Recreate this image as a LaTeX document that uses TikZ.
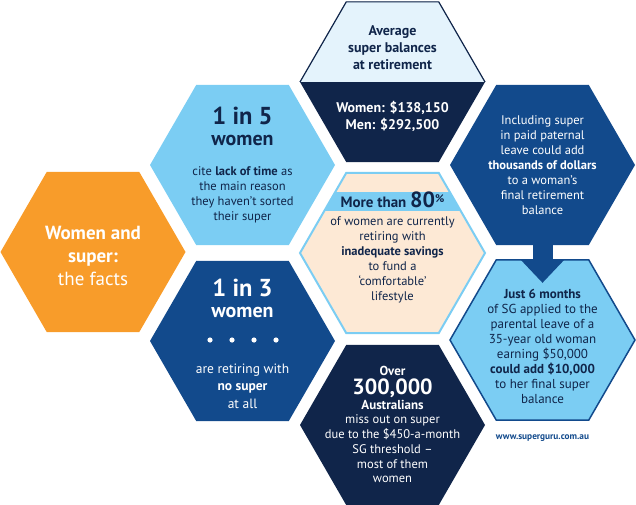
\documentclass[tikz,border=0pt]{standalone}
\usepackage{fontspec}
\setmainfont{PT Sans}
\usetikzlibrary{shapes.geometric,arrows.meta}

\definecolor{suporange}{HTML}{F89C2A}
\definecolor{supsky}{HTML}{7BCDF3}
\definecolor{supblue}{HTML}{124A8C}
\definecolor{supnavy}{HTML}{10254A}
\definecolor{suppeach}{HTML}{FDE9D5}
\definecolor{suppale}{HTML}{E4F3FC}

\newcommand{\fs}[2]{\fontsize{#1}{#2}\selectfont}

\tikzset{
	hexa/.style={regular polygon, regular polygon sides=6, minimum size=185pt, inner sep=0pt, outer sep=0pt},
	txt/.style={align=center, inner sep=0pt},
	stem/.style={draw=supblue, line width=20pt, -{Triangle[width=42pt,length=23pt]}},
}

\begin{document}
\begin{tikzpicture}[x=1pt,y=-1pt]
	\useasboundingbox (0,0) rectangle (636,505);

	% Hexagons
	\node[hexa, fill=suporange] (facts) at (93,252) {};
	\node[hexa, fill=supsky] (five) at (242.5,165) {};
	\node[hexa, fill=supblue] (three) at (242.5,341) {};
	\node[hexa, fill=supnavy] (avg) at (392.5,82) {};
	\node[hexa, fill=suppeach, draw=supsky, line width=2pt] (most) at (392.5,253) {};
	\node[hexa, fill=supnavy] (over) at (392.5,425) {};
	\node[hexa, fill=supblue] (leave) at (542.5,165) {};
	\node[hexa, fill=supsky, draw=supblue, line width=1.5pt] (just) at (542.5,340) {};

	% Top half of the balances hexagon
	\begin{scope}
		\clip (avg.west) ++(-3,0) rectangle ++(192,-90);
		\node[hexa, fill=suppale, draw=supnavy, line width=1.2pt] at (avg) {};
	\end{scope}

	% Band across the 80% hexagon
	\begin{scope}
		\clip (290,192) rectangle (495,210);
		\node[hexa, fill=supsky] at (most) {};
	\end{scope}

	% Arrow from leave to just
	\draw[stem] (leave.south) -- ([yshift=-23pt]just.north);

	% Title
	\node[txt, text=white, font=\fs{19}{23}] (factsText) at (93,256) {\textbf{Women and}\\\textbf{super:}\\the facts};

	% 1 in 5
	\node[txt, text=supnavy, font=\fs{24.5}{26}\bfseries] (fiveHead) at (242.5,116) {1 in 5};
	\node[txt, text=supnavy, font=\fs{20}{22}\bfseries] (fiveSub) at (242.5,141) {women};
	\node[txt, text=supnavy, font=\fs{12.5}{15}] (fiveText) at (242.5,195) {cite \textbf{lack of time} as\\the main reason\\they haven't sorted\\their super};

	% 1 in 3
	\node[txt, text=white, font=\fs{24.5}{26}\bfseries] (threeHead) at (242.5,288) {1 in 3};
	\node[txt, text=white, font=\fs{20}{22}\bfseries] (threeSub) at (242.5,312) {women};
	\foreach \dx in {210,232,254,276}
		\fill[white] (\dx,340) circle (2.6pt);
	\node[txt, text=white, font=\fs{13.5}{17.5}] (threeText) at (242.5,386) {are retiring with\\\textbf{no super}\\at all};

	% Average balances
	\node[txt, text=supnavy, font=\fs{14}{17}\bfseries] (avgHead) at (392.5,48) {Average\\super balances\\at retirement};
	\node[txt, text=white, font=\fs{14}{17}\bfseries] (avgText) at (392.5,116) {Women: \$138,150\\Men: \$292,500};

	% More than 80%
	\node[txt, text=supnavy, font=\fs{15}{17}\bfseries] (mostHead) at (392.5,200) {More than {\fs{22}{22}80}\raisebox{5pt}{\fs{11}{11}\%}};
	\node[txt, text=supnavy, font=\fs{12.5}{15}] (mostText) at (392.5,260) {of women are currently\\retiring with\\\textbf{inadequate savings}\\to fund a\\`comfortable'\\lifestyle};

	% Over 300,000
	\node[txt, text=white, font=\fs{13}{15}\bfseries] (overHead) at (392.5,371) {Over};
	\node[txt, text=white, font=\fs{22}{24}\bfseries] (overNum) at (392.5,388) {300,000};
	\node[txt, text=white, font=\fs{13}{15}\bfseries] (overSub) at (392.5,405) {Australians};
	\node[txt, text=white, font=\fs{12.5}{14.75}] (overText) at (392.5,449) {miss out on super\\due to the \$450-a-month\\SG threshold --\\most of them\\women};

	% Paid leave
	\node[txt, text=white, font=\fs{12.5}{15}] (leaveText) at (542.5,165) {Including super\\in paid paternal\\leave could add\\\textbf{thousands of dollars}\\to a woman's\\final retirement\\balance};

	% Just 6 months
	\node[txt, text=supnavy, font=\fs{13}{15}] (justText) at (542.5,346) {\textbf{Just 6 months}\\of SG applied to the\\parental leave of a\\35-year old woman\\earning \$50,000\\\textbf{could add \$10,000}\\to her final super\\balance};

	% Web address
	\node[txt, text=supblue, font=\fs{9.3}{11}\bfseries] (url) at (542.5,438) {www.superguru.com.au};
\end{tikzpicture}
\end{document}
